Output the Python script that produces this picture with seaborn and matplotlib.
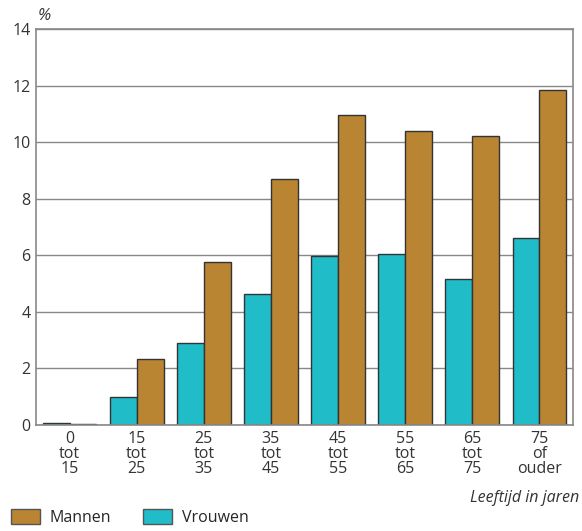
import pandas as pd
import seaborn as sns
import matplotlib.pyplot as plt
from matplotlib.patches import Patch

categories = ['0\ntot\n15', '15\ntot\n25', '25\ntot\n35', '35\ntot\n45',
              '45\ntot\n55', '55\ntot\n65', '65\ntot\n75', '75\nof\nouder']
mannen = [0.05, 2.33, 5.78, 8.69, 10.97, 10.4, 10.21, 11.85]
vrouwen = [0.08, 1.0, 2.9, 4.63, 5.97, 6.06, 5.16, 6.62]

df = pd.DataFrame({
    'leeftijd': categories * 2,
    'waarde': vrouwen + mannen,
    'groep': ['Vrouwen'] * len(categories) + ['Mannen'] * len(categories),
})

colors = {'Mannen': '#B98533', 'Vrouwen': '#20BDC8'}

sns.set_style('white')
plt.rcParams['font.family'] = ['Open Sans', 'DejaVu Sans']

fig = plt.figure(figsize=(5.82, 5.31), dpi=100)
ax = fig.add_axes([36 / 582, 1 - 425 / 531, (573 - 36) / 582, (425 - 29) / 531])

sns.barplot(data=df, x='leeftijd', y='waarde', hue='groep',
            hue_order=['Vrouwen', 'Mannen'], palette=colors, saturation=1,
            width=0.8, edgecolor='#333333', linewidth=1, ax=ax, legend=False)

ax.set_ylim(0, 14)
ax.set_xlim(-0.5, len(categories) - 0.5)
ax.set_yticks(range(0, 15, 2))
ax.yaxis.grid(True, color='#888888', linewidth=1)
ax.set_axisbelow(True)
for s in ax.spines.values():
    s.set_color('#888888')
    s.set_linewidth(1.2)
ax.tick_params(axis='both', labelsize=11.5, colors='#333333', length=0, pad=4)
for lbl in ax.get_xticklabels():
    lbl.set_linespacing(0.95)
ax.set_xlabel('')
ax.set_ylabel('')

fig.text(38 / 582, 1 - 16 / 531, '%', fontsize=12, style='italic', color='#333333', va='center')
fig.text(579 / 582, 1 - 498 / 531, 'Leeftijd in jaren', fontsize=11.5, style='italic',
         color='#333333', ha='right', va='center')

handles = [Patch(facecolor=colors['Mannen'], edgecolor='#555555'),
           Patch(facecolor=colors['Vrouwen'], edgecolor='#555555')]
fig.legend(handles, ['Mannen', 'Vrouwen'], loc='lower left', bbox_to_anchor=(-0.005, -0.018),
           ncol=2, frameon=False, fontsize=11.5, handlelength=1.8, handleheight=1.1,
           columnspacing=2.0, handletextpad=0.6)

fig.savefig('out.png', dpi=100)
